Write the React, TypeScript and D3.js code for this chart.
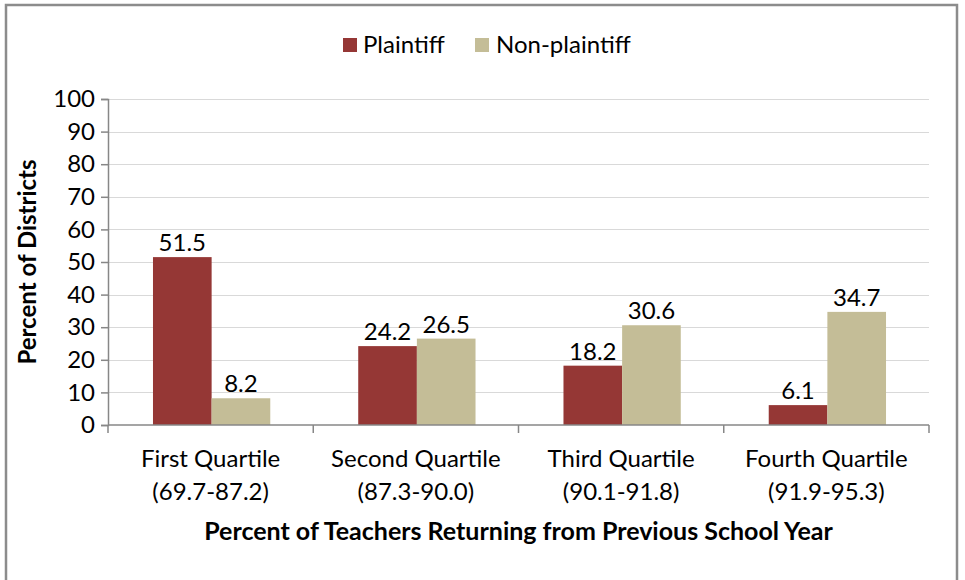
import React, { useEffect, useRef } from "react";
import * as d3 from "d3";

const quartiles = ["First Quartile", "Second Quartile", "Third Quartile", "Fourth Quartile"];
const ranges = ["(69.7-87.2)", "(87.3-90.0)", "(90.1-91.8)", "(91.9-95.3)"];
const seriesNames = ["Plaintiff", "Non-plaintiff"];
const plaintiff = [51.5, 24.2, 18.2, 6.1];
const nonPlaintiff = [8.2, 26.5, 30.6, 34.7];
const yTicks = [0, 10, 20, 30, 40, 50, 60, 70, 80, 90, 100];
const colors = ["#953735", "#C4BD97"];

const FONT = "Lato, 'Open Sans', sans-serif";

export default function App() {
  const ref = useRef<SVGSVGElement>(null);

  useEffect(() => {
    const width = 965;
    const height = 580;
    const margin = { top: 99, right: 36, bottom: 154, left: 108 };

    const svg = d3.select(ref.current);
    svg.selectAll("*").remove();
    svg.attr("width", width).attr("height", height);

    // chart frame
    svg.append("path")
      .attr("d", `M6,580 V5 H957 V580`)
      .attr("fill", "none")
      .attr("stroke", "#8c8c8c")
      .attr("stroke-width", 2.5);

    const x0 = d3.scaleBand<string>()
      .domain(quartiles)
      .range([margin.left, width - margin.right])
      .paddingInner(0)
      .paddingOuter(0);

    const x1 = d3.scaleBand<string>()
      .domain(seriesNames)
      .range([0, x0.bandwidth()])
      .paddingInner(0)
      .paddingOuter(0.75);

    const y = d3.scaleLinear()
      .domain([0, 100])
      .range([height - margin.bottom - 1, margin.top]);

    // gridlines
    svg.append("g")
      .selectAll("line")
      .data(yTicks.filter(d => d > 0))
      .enter()
      .append("line")
      .attr("x1", margin.left)
      .attr("x2", width - margin.right)
      .attr("y1", d => Math.round(y(d)) + 0.5)
      .attr("y2", d => Math.round(y(d)) + 0.5)
      .attr("stroke", "#d9d9d9")
      .attr("stroke-width", 1.2);

    // bars
    const data = quartiles.map((q, i) => ({
      q,
      values: [
        { name: seriesNames[0], v: plaintiff[i] },
        { name: seriesNames[1], v: nonPlaintiff[i] },
      ],
    }));

    const groups = svg.append("g")
      .selectAll("g")
      .data(data)
      .enter()
      .append("g")
      .attr("transform", d => `translate(${x0(d.q)},0)`);

    groups.selectAll("rect")
      .data(d => d.values)
      .enter()
      .append("rect")
      .attr("x", d => x1(d.name)! + 1)
      .attr("y", d => y(d.v))
      .attr("width", x1.bandwidth())
      .attr("height", d => y(0) - y(d.v))
      .attr("fill", (d, i) => colors[i]);

    groups.selectAll("text")
      .data(d => d.values)
      .enter()
      .append("text")
      .attr("x", d => x1(d.name)! + 1 + x1.bandwidth() / 2)
      .attr("y", d => y(d.v) - 6)
      .attr("text-anchor", "middle")
      .attr("font-family", FONT)
      .attr("font-size", 24)
      .attr("fill", "#000")
      .text(d => d.v.toFixed(1));

    // y axis
    const yAxis = d3.axisLeft(y)
      .tickValues(yTicks)
      .tickSize(7)
      .tickPadding(6)
      .tickFormat(d3.format("d"));

    const yg = svg.append("g")
      .attr("transform", `translate(${margin.left},0)`)
      .call(yAxis);
    yg.select(".domain").attr("stroke", "#878787").attr("stroke-width", 1.5);
    yg.selectAll(".tick line").attr("stroke", "#878787").attr("stroke-width", 1.5);
    yg.selectAll(".tick text")
      .attr("font-family", FONT)
      .attr("font-size", 24)
      .attr("fill", "#000");

    // x axis
    const xBase = y(0);
    const xg = svg.append("g");
    xg.append("line")
      .attr("x1", margin.left)
      .attr("x2", width - margin.right)
      .attr("y1", xBase)
      .attr("y2", xBase)
      .attr("stroke", "#878787")
      .attr("stroke-width", 1.5);
    const edges = quartiles.map(q => x0(q)!).concat([x0(quartiles[3])! + x0.bandwidth()]);
    xg.selectAll("line.tick")
      .data(edges)
      .enter()
      .append("line")
      .attr("class", "tick")
      .attr("x1", d => d)
      .attr("x2", d => d)
      .attr("y1", xBase)
      .attr("y2", xBase + 8)
      .attr("stroke", "#878787")
      .attr("stroke-width", 1.5);

    const labels = xg.selectAll("text.cat")
      .data(quartiles)
      .enter()
      .append("text")
      .attr("class", "cat")
      .attr("text-anchor", "middle")
      .attr("font-family", FONT)
      .attr("font-size", 24)
      .attr("fill", "#000");
    labels.append("tspan")
      .attr("x", d => x0(d)! + x0.bandwidth() / 2)
      .attr("y", 467)
      .text(d => d);
    labels.append("tspan")
      .attr("x", d => x0(d)! + x0.bandwidth() / 2)
      .attr("y", 500)
      .text((d, i) => ranges[i]);

    // axis titles
    svg.append("text")
      .attr("x", (margin.left + width - margin.right) / 2)
      .attr("y", 540)
      .attr("text-anchor", "middle")
      .attr("font-family", FONT)
      .attr("font-size", 25)
      .attr("font-weight", "bold")
      .text("Percent of Teachers Returning from Previous School Year");

    svg.append("text")
      .attr("transform", `translate(36, ${(y(0) + y(100)) / 2}) rotate(-90)`)
      .attr("text-anchor", "middle")
      .attr("font-family", FONT)
      .attr("font-size", 24)
      .attr("font-weight", "bold")
      .text("Percent of Districts");

    // legend
    const legend = svg.append("g");
    const legendItems = [
      { name: seriesNames[0], x: 343, tx: 363 },
      { name: seriesNames[1], x: 475, tx: 496 },
    ];
    legendItems.forEach((d, i) => {
      legend.append("rect")
        .attr("x", d.x)
        .attr("y", 38)
        .attr("width", 14)
        .attr("height", 14)
        .attr("fill", colors[i]);
      legend.append("text")
        .attr("x", d.tx)
        .attr("y", 53)
        .attr("font-family", FONT)
        .attr("font-size", 24)
        .attr("fill", "#000")
        .text(d.name);
    });
  }, []);

  return (
    <svg ref={ref} style={{ position: "absolute", left: 0, top: 0, background: "#fff" }} />
  );
}
